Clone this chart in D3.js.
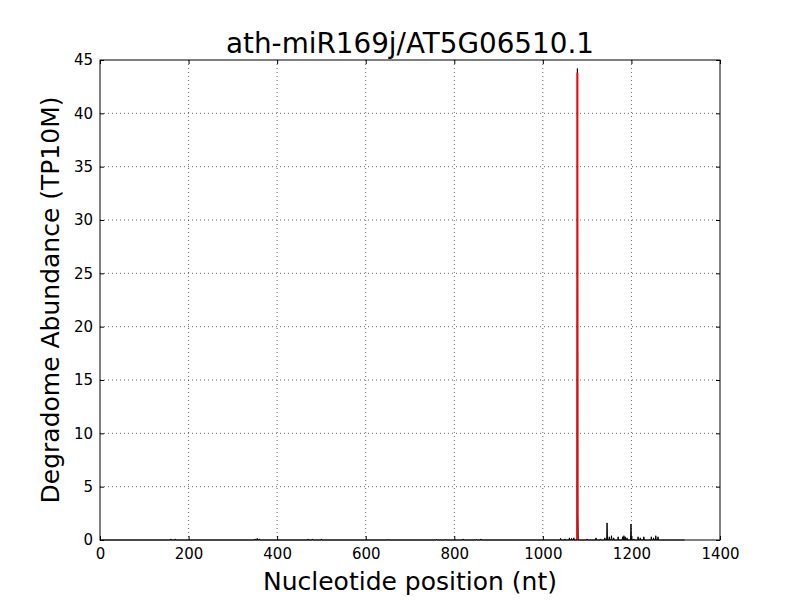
<!DOCTYPE html>
<html><head><meta charset="utf-8">
<script src="https://cdn.jsdelivr.net/npm/d3@7"></script>
<style>body{margin:0;background:#fff}svg{display:block}text{font-family:"DejaVu Sans",sans-serif}</style>
</head><body><svg id="c" width="800" height="600"></svg>
<script>
const title = "ath-miR169j/AT5G06510.1";
const xLabel = "Nucleotide position (nt)";
const yLabel = "Degradome Abundance (TP10M)";
const xTicks = [0,200,400,600,800,1000,1200,1400];
const yTicks = [0,5,10,15,20,25,30,35,40,45];
const transcriptLength = 1320;
// nonzero degradome positions and abundances
const peakPos = [160,170,350,355,360,470,480,500,650,760,780,820,850,860,1040,1050,1060,1065,1070,1078,1079,1100,1120,1130,1140,1145,1150,1155,1160,1170,1180,1183,1186,1190,1199,1205,1215,1220,1228,1245,1250,1255,1260];
const peakVal = [0.1,0.1,0.1,0.15,0.1,0.1,0.1,0.1,0.05,0.05,0.05,0.1,0.05,0.1,0.15,0.1,0.2,0.15,0.2,44.2,2.5,0.1,0.2,0.1,0.2,1.6,0.3,0.4,0.2,0.3,0.3,0.4,0.3,0.2,1.5,0.1,0.3,0.2,0.3,0.3,0.2,0.4,0.3];
const sitePos = [1078];
const siteVal = [43.8];

const svg = d3.select("#c");
const m = {l:100, r:720, t:60, b:540};
const x = d3.scaleLinear().domain([0,1400]).range([m.l,m.r]);
const y = d3.scaleLinear().domain([0,45]).range([m.b,m.t]);

const map = new Map(peakPos.map((p,i)=>[p,peakVal[i]]));
const prof = [];
for (let p=1;p<=transcriptLength;p++) prof.push([p, map.get(p)||0]);

const g = svg.append("g");
xTicks.slice(1,-1).forEach(t=>g.append("line").attr("x1",x(t)).attr("x2",x(t)).attr("y1",m.t).attr("y2",m.b).attr("stroke","#000").attr("stroke-width",0.6).attr("stroke-dasharray","1,3"));
yTicks.slice(1,-1).forEach(t=>g.append("line").attr("y1",y(t)).attr("y2",y(t)).attr("x1",m.l).attr("x2",m.r).attr("stroke","#000").attr("stroke-width",0.6).attr("stroke-dasharray","1,3"));

svg.append("path").datum(prof).attr("fill","none").attr("stroke","#000").attr("stroke-width",1)
  .attr("d", d3.line().x(d=>x(d[0])).y(d=>y(d[1])));
sitePos.forEach((p,i)=>svg.append("line").attr("x1",x(p)).attr("x2",x(p)).attr("y1",y(0)).attr("y2",y(siteVal[i])).attr("stroke","#ff0000").attr("stroke-width",2));

const xb = svg.append("g").attr("transform",`translate(0,${m.b})`).call(d3.axisBottom(x).tickValues(xTicks).tickSize(-4).tickPadding(8).tickFormat(d3.format("d")));
const xt = svg.append("g").attr("transform",`translate(0,${m.t})`).call(d3.axisTop(x).tickValues(xTicks).tickSize(-4).tickFormat(""));
const yl = svg.append("g").attr("transform",`translate(${m.l},0)`).call(d3.axisLeft(y).tickValues(yTicks).tickSize(-4).tickPadding(7).tickFormat(d3.format("d")));
const yr = svg.append("g").attr("transform",`translate(${m.r},0)`).call(d3.axisRight(y).tickValues(yTicks).tickSize(-4).tickFormat(""));
[xb,xt,yl,yr].forEach(a=>{a.select(".domain").remove();a.selectAll("text").attr("font-size",15).attr("fill","#000").attr("font-family","DejaVu Sans");a.selectAll("line").attr("stroke","#000");});
svg.append("rect").attr("x",m.l).attr("y",m.t).attr("width",m.r-m.l).attr("height",m.b-m.t).attr("fill","none").attr("stroke","#000").attr("stroke-width",1);

svg.append("text").attr("x",(m.l+m.r)/2).attr("y",53).attr("text-anchor","middle").attr("font-size",27.8).text(title);
svg.append("text").attr("x",(m.l+m.r)/2).attr("y",590).attr("text-anchor","middle").attr("font-size",25).text(xLabel);
svg.append("text").attr("transform",`translate(59,${(m.t+m.b)/2}) rotate(-90)`).attr("text-anchor","middle").attr("font-size",25).text(yLabel);
</script></body></html>
